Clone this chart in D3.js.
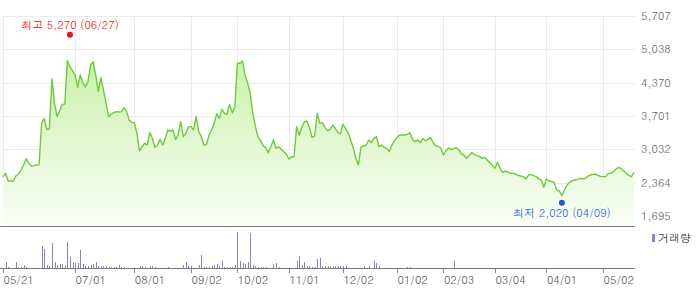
<!DOCTYPE html>
<meta charset="utf-8">
<style>

body {
  margin: 0;
  background: #fff;
}

svg {
  display: block;
  font-family: "Dotum", "Noto Sans CJK KR", sans-serif;
  font-size: 11px;
}

.grid line {
  stroke: #ebebeb;
  shape-rendering: crispEdges;
}

.frame {
  stroke: #7a7a7a;
  shape-rendering: crispEdges;
}

.price {
  fill: none;
  stroke: #6ccb3a;
  stroke-width: 1.4;
  stroke-linejoin: round;
}

.vol {
  fill: #8f80c8;
  shape-rendering: crispEdges;
}

</style>
<svg width="700" height="289"></svg>
<script src="https://d3js.org/d3.v7.min.js"></script>
<script>

// closing price, one value per trading day
var prices = [
  2483, 2551, 2397, 2400, 2397, 2497, 2537, 2618, 2718, 2845,
  2752, 2698, 2705, 2718, 2725, 3554, 3655, 3434, 3440, 4450,
  3955, 3687, 3808, 3935, 3942, 4811, 4690, 4610, 4523, 4277,
  4523, 4357, 4290, 4390, 4724, 4791, 4523, 4189, 4470, 4223,
  3970, 3687, 3741, 3768, 3788, 3781, 3788, 3868, 3788, 3621,
  3574, 3567, 3353, 2999, 3085, 3153, 3119, 3367, 3253, 3073,
  3119, 3233, 3119, 3253, 3420, 3400, 3420, 3233, 3320, 3587,
  3286, 3353, 3487, 3487, 3420, 3687, 3386, 3286, 3119, 3126,
  3320, 3420, 3554, 3741, 3655, 3835, 3755, 3741, 3935, 3768,
  3875, 4758, 4758, 4804, 4523, 4357, 4156, 3755, 3487, 3286,
  3206, 3106, 3066, 2965, 3086, 3220, 3053, 3086, 3032, 2985,
  2939, 2832, 2885, 2885, 3487, 3320, 3474, 3587, 3600, 3467,
  3273, 3300, 3755, 3554, 3567, 3474, 3407, 3434, 3520, 3453,
  3367, 3347, 3534, 3453, 3367, 3220, 3060, 2850, 2720, 3080,
  3099, 3119, 3220, 3166, 3253, 3286, 3085, 3119, 3073, 3053,
  2985, 3119, 3206, 3273, 3320, 3320, 3320, 3333, 3367, 3233,
  3186, 3220, 3166, 3250, 3206, 3233, 3266, 3166, 3099, 3093,
  3053, 2919, 3006, 3059, 3026, 3046, 3066, 3019, 2939, 2919,
  2852, 2905, 2965, 2932, 2905, 2892, 2852, 2872, 2818, 2765,
  2711, 2651, 2772, 2651, 2564, 2598, 2578, 2551, 2551, 2537,
  2511, 2497, 2484, 2437, 2517, 2524, 2504, 2484, 2444, 2417,
  2270, 2437, 2397, 2390, 2363, 2217, 2197, 2102, 2217, 2317,
  2370, 2404, 2417, 2430, 2451, 2437, 2451, 2484, 2517, 2531,
  2537, 2511, 2491, 2484, 2484, 2551, 2551, 2584, 2638, 2671,
  2644, 2598, 2551, 2511, 2484, 2571
];

// volume (thousand shares), same days
var volumes = [
  10, 600, 130, 10, 10, 600, 130, 130, 330, 130,
  10, 10, 10, 10, 10, 2230, 1930, 330, 230, 2530,
  630, 330, 430, 430, 330, 2630, 1130, 570, 530, 500,
  1830, 400, 230, 230, 330, 400, 630, 230, 230, 230,
  230, 130, 130, 130, 130, 330, 130, 130, 10, 10,
  10, 10, 10, 150, 150, 100, 10, 150, 150, 100,
  10, 10, 10, 10, 100, 10, 10, 10, 10, 10,
  330, 630, 150, 230, 10, 10, 300, 1330, 130, 130,
  130, 230, 330, 430, 230, 730, 130, 130, 130, 130,
  330, 3630, 730, 530, 430, 630, 3530, 330, 230, 130,
  130, 130, 130, 10, 10, 430, 530, 130, 10, 10,
  10, 10, 10, 10, 730, 1230, 330, 630, 230, 230,
  130, 130, 930, 1030, 230, 150, 150, 150, 150, 150,
  150, 230, 150, 150, 10, 10, 10, 10, 10, 10,
  150, 10, 150, 10, 670, 500, 150, 10, 10, 10,
  10, 10, 10, 10, 10, 10, 10, 130, 130, 10,
  10, 10, 10, 10, 10, 10, 10, 10, 10, 10,
  10, 10, 10, 10, 10, 730, 10, 10, 10, 10,
  10, 10, 10, 10, 10, 10, 10, 10, 10, 10,
  10, 10, 10, 10, 10, 10, 10, 10, 10, 10,
  10, 10, 10, 10, 10, 10, 10, 10, 10, 10,
  10, 10, 10, 10, 10, 10, 10, 10, 10, 10,
  10, 10, 10, 10, 10, 10, 10, 10, 10, 10,
  10, 10, 10, 10, 10, 10, 10, 10, 10, 10,
  10, 10, 10, 10, 10, 10
];

var tickIndex = [0, 28, 51, 73, 91, 111, 132, 153, 171, 191, 211, 233];
var tickLabels = ["05/21", "07/01", "08/01", "09/02", "10/02", "11/01",
                  "12/02", "01/02", "02/03", "03/04", "04/01", "05/02"];

var yTicks = [1695, 2364, 3032, 3701, 4370, 5038, 5707];

var highPoint = [26, 5270, "최고 5,270 (06/27)"];
var lowPoint = [217, 2020, "최저 2,020 (04/09)"];

var svg = d3.select("svg");

var plotLeft = 3, plotRight = 634,
    plotTop = 16, plotBottom = 216, panelBottom = 226,
    volBase = 268;

var x = d3.scaleLinear()
    .domain([0, prices.length - 1])
    .range([plotLeft, plotRight]);

var y = d3.scaleLinear()
    .domain([yTicks[0], yTicks[yTicks.length - 1]])
    .range([plotBottom, plotTop]);

var v = d3.scaleLinear()
    .domain([0, 4000])
    .range([volBase, volBase - 40]);

function crisp(p) { return Math.round(p) + 0.5; }

var defs = svg.append("defs");
var grad = defs.append("linearGradient")
    .attr("id", "fillGrad")
    .attr("gradientUnits", "userSpaceOnUse")
    .attr("x1", 0).attr("y1", plotTop)
    .attr("x2", 0).attr("y2", panelBottom);
grad.append("stop").attr("offset", "0%").attr("stop-color", "#bdee96");
grad.append("stop").attr("offset", "100%").attr("stop-color", "#fbfef8");

// grid
var grid = svg.append("g").attr("class", "grid");

grid.selectAll(".h")
  .data(yTicks)
  .enter().append("line")
    .attr("class", "h")
    .attr("x1", plotLeft)
    .attr("x2", plotRight + 1)
    .attr("y1", function(d) { return crisp(y(d)); })
    .attr("y2", function(d) { return crisp(y(d)); });

grid.selectAll(".v")
  .data(tickIndex)
  .enter().append("line")
    .attr("class", "v")
    .attr("x1", function(d) { return crisp(x(d)); })
    .attr("x2", function(d) { return crisp(x(d)); })
    .attr("y1", plotTop)
    .attr("y2", panelBottom);

// price area + line
var area = d3.area()
    .x(function(d, i) { return x(i); })
    .y0(panelBottom)
    .y1(function(d) { return y(d); });

var line = d3.line()
    .x(function(d, i) { return x(i); })
    .y(function(d) { return y(d); });

svg.append("path")
    .datum(prices)
    .attr("fill", "url(#fillGrad)")
    .attr("d", area);

svg.append("path")
    .datum(prices)
    .attr("class", "price")
    .attr("d", line);

// frame lines
svg.append("line")
    .attr("class", "frame")
    .attr("x1", 0).attr("x2", plotRight + 1)
    .attr("y1", crisp(panelBottom)).attr("y2", crisp(panelBottom));

svg.append("line")
    .attr("class", "frame")
    .attr("x1", 0).attr("x2", plotRight + 1)
    .attr("y1", crisp(volBase)).attr("y2", crisp(volBase));

// volume bars
svg.append("g")
  .selectAll("rect")
  .data(volumes)
  .enter().append("rect")
    .attr("class", "vol")
    .attr("x", function(d, i) { return Math.round(x(i)); })
    .attr("width", 1)
    .attr("y", function(d) { return volBase - Math.round(volBase - v(d)); })
    .attr("height", function(d) { return Math.round(volBase - v(d)); });

// x ticks and labels
svg.append("g")
  .selectAll("line")
  .data(tickIndex)
  .enter().append("line")
    .attr("x1", function(d) { return crisp(x(d)); })
    .attr("x2", function(d) { return crisp(x(d)); })
    .attr("y1", volBase + 1)
    .attr("y2", volBase + 5)
    .attr("stroke", "#8a84b4")
    .attr("shape-rendering", "crispEdges");

svg.append("g")
  .selectAll("text")
  .data(tickIndex)
  .enter().append("text")
    .attr("x", function(d) { return x(d) + 0.5; })
    .attr("y", 284)
    .attr("fill", "#555")
    .text(function(d, i) { return tickLabels[i]; });

// y labels
svg.append("g")
  .selectAll("text")
  .data(yTicks)
  .enter().append("text")
    .attr("x", plotRight + 7)
    .attr("y", function(d) { return y(d); })
    .attr("dy", "0.35em")
    .attr("fill", "#666")
    .text(function(d) { return d3.format(",")(d); });

// high / low markers
svg.append("circle")
    .attr("cx", x(highPoint[0]))
    .attr("cy", y(highPoint[1]) - 3)
    .attr("r", 3)
    .attr("fill", "#f01010");

svg.append("text")
    .attr("x", x(highPoint[0]))
    .attr("y", y(highPoint[1]) - 9)
    .attr("text-anchor", "middle")
    .attr("fill", "#f01010")
    .text(highPoint[2]);

svg.append("circle")
    .attr("cx", x(lowPoint[0]))
    .attr("cy", y(lowPoint[1]) + 3)
    .attr("r", 3)
    .attr("fill", "#1f5fd6");

svg.append("text")
    .attr("x", x(lowPoint[0]))
    .attr("y", y(lowPoint[1]) + 17)
    .attr("text-anchor", "middle")
    .attr("fill", "#1f5fd6")
    .text(lowPoint[2]);

// legend
svg.append("rect")
    .attr("x", 652)
    .attr("y", 234)
    .attr("width", 3)
    .attr("height", 8)
    .attr("class", "vol");

svg.append("text")
    .attr("x", 658)
    .attr("y", 242)
    .attr("fill", "#333")
    .text("거래량");

</script>
